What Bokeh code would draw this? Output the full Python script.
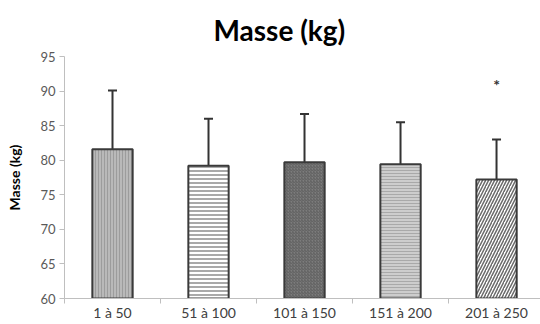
from bokeh.plotting import figure
from bokeh.models import ColumnDataSource, Range1d, FixedTicker, Whisker, Title, TeeHead
from bokeh.core.properties import value
from bokeh.embed import file_html
from bokeh.resources import INLINE

categories = ["1 à 50", "51 à 100", "101 à 150", "151 à 200", "201 à 250"]
means = [81.6, 79.2, 79.7, 79.4, 77.2]
sds = [8.5, 6.8, 7.0, 6.1, 5.8]
star_labels = ["", "", "", "", "*"]
y_ticks = [60, 65, 70, 75, 80, 85, 90, 95]

xs = [i + 0.5 for i in range(len(categories))]
fills = ["#b9b9b9", "#ffffff", "#7c7c7c", "#cdcdcd", "#ffffff"]
hatches = ["|", "-", "/", "-", "/"]
hatch_colors = ["#9c9c9c", "#8c8c8c", "#5e5e5e", "#a9a9a9", "#6a6a6a"]
hatch_scales = [3, 4, 3, 3, 6]
hatch_weights = [1, 1.5, 1, 1, 1.5]

src = ColumnDataSource(dict(
    x=xs, top=means,
    upper=[m + s for m, s in zip(means, sds)],
    lower=[m - s for m, s in zip(means, sds)],
    fill=fills, hatch=hatches, hcol=hatch_colors, hscale=hatch_scales, hw=hatch_weights,
))

p = figure(width=540, height=324, output_backend="svg", toolbar_location=None,
           x_range=Range1d(0, 4.958), y_range=Range1d(60, 95),
           min_border_left=64, min_border_right=0, min_border_top=54, min_border_bottom=26)
p.outline_line_color = None
p.grid.grid_line_color = None
p.background_fill_color = "white"

title = Title(text="Masse (kg)", text_font="Lato", text_font_size="28px",
              text_font_style="bold", text_color="#000000", align="left", offset=149,
              standoff=20)
p.add_layout(title, "above")

p.vbar(x="x", top="top", bottom=60, width=0.42, source=src,
       fill_color="fill", hatch_pattern="hatch", hatch_color="hcol",
       hatch_scale="hscale", hatch_weight="hw",
       line_color="#3a3a3a", line_width=2)

p.add_layout(Whisker(source=src, base="x", upper="upper", lower="lower",
                     line_color="#333333", line_width=2,
                     upper_head=TeeHead(size=9, line_color="#333333", line_width=2),
                     lower_head=TeeHead(size=9, line_color="#333333", line_width=2)))

star_src = ColumnDataSource(dict(x=xs, y=[u + 8 for u in src.data["upper"]], t=star_labels))
p.text(x="x", y="y", text="t", source=star_src, text_align="center", text_baseline="middle",
       text_font=value("Lato"), text_font_size="16px", text_font_style="bold",
       text_color="#333333")

# y axis
p.yaxis.ticker = FixedTicker(ticks=y_ticks)
p.yaxis.axis_line_color = "#bfbfbf"
p.yaxis.major_tick_line_color = "#bfbfbf"
p.yaxis.major_tick_in = 0
p.yaxis.major_tick_out = 5
p.yaxis.minor_tick_line_color = None
p.yaxis.major_label_text_font = "Lato"
p.yaxis.major_label_text_font_size = "13px"
p.yaxis.major_label_text_color = "#595959"
p.yaxis.major_label_standoff = 4
p.yaxis.axis_label = "Masse (kg)"
p.yaxis.axis_label_text_font = "Lato"
p.yaxis.axis_label_text_font_size = "14px"
p.yaxis.axis_label_text_font_style = "bold"
p.yaxis.axis_label_text_color = "#000000"
p.yaxis.axis_label_standoff = 14

# x axis
p.xaxis.ticker = FixedTicker(ticks=xs, minor_ticks=[float(i) for i in range(len(categories) + 1)])
p.xaxis.major_label_overrides = {x: c for x, c in zip(xs, categories)}
p.xaxis.axis_line_color = "#bfbfbf"
p.xaxis.major_tick_line_color = None
p.xaxis.major_tick_out = 0
p.xaxis.major_tick_in = 0
p.xaxis.minor_tick_line_color = "#bfbfbf"
p.xaxis.minor_tick_in = 0
p.xaxis.minor_tick_out = 5
p.xaxis.major_label_text_font = "Lato"
p.xaxis.major_label_text_font_size = "14px"
p.xaxis.major_label_text_color = "#404040"
p.xaxis.major_label_standoff = 0

open("out.html", "w").write(file_html(p, INLINE))
